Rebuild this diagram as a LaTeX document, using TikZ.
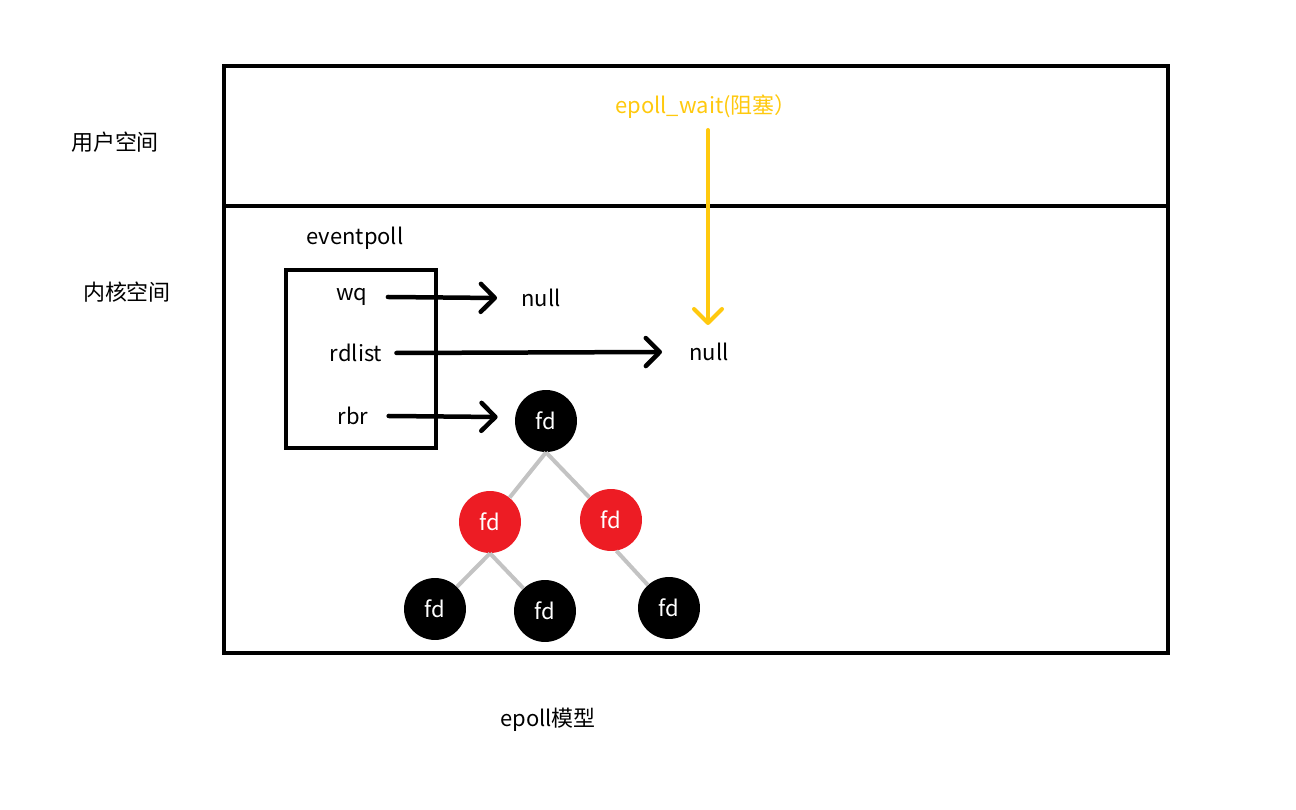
\documentclass[tikz,border=0pt]{standalone}
\usepackage{fontspec}
\setmainfont{Noto Sans CJK SC}
\usetikzlibrary{positioning, calc, arrows.meta}
\definecolor{fdred}{HTML}{ED1C24}
\definecolor{waityellow}{HTML}{FFC90E}
\definecolor{edgegray}{HTML}{C3C3C3}
\tikzset{
        label-txt/.style={font=\fontsize{12.5}{15}\selectfont, inner sep=0pt},
        space-frame/.style={line width=0.08cm},
        ep-box/.style={draw, line width=0.08cm, minimum width=3.0cm, minimum height=3.56cm},
        fd-black/.style={circle, fill=black, text=white, minimum size=1.24cm, inner sep=0pt,
            font=\fontsize{12.5}{15}\selectfont},
        fd-red/.style={fd-black, fill=fdred},
        ptr/.style={line width=0.09cm, line cap=round,
            -{Straight Barb[length=0.28cm, width=0.56cm, round]}},
        tree-edge/.style={edgegray, line width=0.08cm},
}
\begin{document}
\begin{tikzpicture}[x=0.02cm, y=-0.02cm]

        \useasboundingbox (0,0) rectangle (1296,810);

        % USER / KERNEL SPACE
        \draw [space-frame] (224,66) rectangle (1168,653);
        \draw [space-frame] (224,206) -- (1168,206);
        \node[label-txt]                (USER)   at (115,142)   {用户空间};
        \node[label-txt]                (KERNEL) at (127,292)   {内核空间};
        \node[label-txt]                (TITLE)  at (548,720)   {epoll模型};

        % DRAW NODES
        \node[ep-box]                   (EP)     at (361,359)   {};
        \node[label-txt]                (EPNAME) at (355,238)   {eventpoll};
        \node[label-txt]                (WQ)     at (352,297)   {wq};
        \node[label-txt]                (RDL)    at (356,353)   {rdlist};
        \node[label-txt]                (RBR)    at (353,416)   {rbr};
        \node[label-txt]                (NULLA)  at (541,298)   {null};
        \node[label-txt]                (NULLB)  at (709,352)   {null};
        \node[label-txt, waityellow]    (WAIT)   at (706,107)   {epoll\_wait(阻塞）};

        % RED-BLACK TREE
        \node[fd-black]                 (ROOT)   at (546,421)   {fd};
        \node[fd-red]                   (L)      at (490,522)   {fd};
        \node[fd-red]                   (R)      at (611,520)   {fd};
        \node[fd-black]                 (LL)     at (435,609)   {fd};
        \node[fd-black]                 (LR)     at (545,611)   {fd};
        \node[fd-black]                 (RR)     at (669,608)   {fd};

        % CONNECT POINTERS
        \draw [ptr] ($(WQ.east)+(20,0)$)  -- ($(NULLA.west)+(-24,0)$);
        \draw [ptr] ($(RDL.east)+(14,0)$) -- ($(NULLB.west)+(-27,0)$);
        \draw [ptr] ($(RBR.east)+(20,0)$) -- ($(ROOT.west)+(-17,-4)$);

        % CONNECT EPOLL_WAIT
        \coordinate (WAITTOP) at (708,130);
        \coordinate (WAITEND) at (708,325);
        \draw [ptr, line width=0.08cm, waityellow] (WAITTOP) -- (WAITEND);

        % CONNECT TREE
        \draw [tree-edge] (ROOT.south) -- (L);
        \draw [tree-edge] (ROOT.south) -- (R);
        \draw [tree-edge] (L.south) -- (LL);
        \draw [tree-edge] (L.south) -- (LR);
        \draw [tree-edge] (R.-80) -- (RR);

    \end{tikzpicture}
\end{document}
